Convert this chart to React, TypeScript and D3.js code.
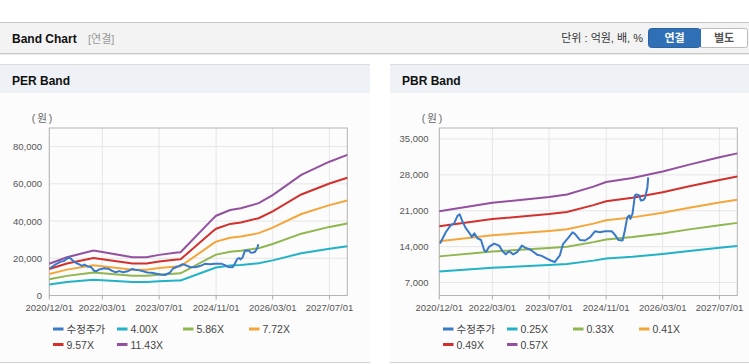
import React from "react";
import * as d3 from "d3";

// adjusted close (수정주가), same series for both panels
const priceDates = [
  "2020-12-07", "2021-01-28", "2021-03-10", "2021-04-06", "2021-05-06", "2021-05-25",
  "2021-06-18", "2021-07-16", "2021-08-15", "2021-09-06", "2021-09-28", "2021-10-25",
  "2021-11-24", "2021-12-21", "2022-01-06", "2022-02-03", "2022-03-16", "2022-04-28",
  "2022-05-28", "2022-06-24", "2022-07-22", "2022-08-27", "2022-10-03", "2022-11-09",
  "2022-12-07", "2023-01-12", "2023-02-15", "2023-03-22", "2023-04-28", "2023-06-08",
  "2023-07-15", "2023-08-18", "2023-10-01", "2023-10-28", "2023-12-12", "2024-01-18",
  "2024-02-07", "2024-03-21", "2024-05-03", "2024-06-15", "2024-07-28", "2024-09-09",
  "2024-10-21", "2024-12-19", "2025-01-16", "2025-02-14", "2025-03-22", "2025-04-10",
  "2025-05-01", "2025-05-19", "2025-05-28", "2025-06-15", "2025-07-06", "2025-07-19",
  "2025-08-12", "2025-08-25", "2025-09-16", "2025-10-01", "2025-10-21", "2025-10-28",
];
const priceValues = [
  14600, 16900, 18200, 18500, 20000, 20300,
  18900, 17600, 16700, 15900, 16600, 15600,
  15300, 13300, 13000, 14000, 14600, 14200,
  13100, 12500, 13100, 12500, 13000, 14200,
  13800, 13500, 13000, 12400, 12200, 11700,
  11300, 11000, 12300, 14500, 15700, 16800,
  16500, 15300, 15200, 15800, 17000, 16800,
  17000, 17000, 16300, 15300, 15200, 17100,
  19700, 20100, 19400, 20400, 24000, 24200,
  24000, 23000, 23100, 23500, 25600, 27500,
];

// EPS path behind the PER band
const epsDates = [
  "2020-12-01", "2021-05-01", "2021-12-15", "2022-03-01", "2022-11-15", "2023-03-15",
  "2023-07-01", "2023-12-01", "2024-01-01", "2024-10-01", "2024-11-01", "2025-03-01",
  "2025-06-01", "2025-11-01", "2026-03-01", "2026-11-01", "2027-07-01", "2027-12-01",
];
const epsValues = [
  1490, 1800, 2110, 2040, 1800, 1800,
  1910, 2020, 2030, 3590, 3750, 4020,
  4100, 4340, 4720, 5670, 6290, 6610,
];

// BPS path behind the PBR band
const bpsDates = [
  "2020-12-01", "2022-03-01", "2023-07-01", "2023-12-01", "2024-07-15", "2024-11-01",
  "2025-06-15", "2026-03-01", "2026-10-15", "2027-07-01", "2027-12-01",
];
const bpsValues = [
  36670, 39560, 41580, 42400, 45090, 46670,
  48070, 50250, 52630, 55120, 56470,
];

const perMultiples = [4.0, 5.86, 7.72, 9.57, 11.43];
const perLabels = ["수정주가", "4.00X", "5.86X", "7.72X", "9.57X", "11.43X"];
const pbrMultiples = [0.25, 0.33, 0.41, 0.49, 0.57];
const pbrLabels = ["수정주가", "0.25X", "0.33X", "0.41X", "0.49X", "0.57X"];

const perYTicks = [0, 20000, 40000, 60000, 80000];
const pbrYTicks = [7000, 14000, 21000, 28000, 35000];
const xTickDates = ["2020-12-01", "2022-03-01", "2023-07-01", "2024-11-01", "2026-03-01", "2027-07-01"];
const xTickLabels = ["2020/12/01", "2022/03/01", "2023/07/01", "2024/11/01", "2026/03/01", "2027/07/01"];

const colors = ["#3a78c8", "#22b2c6", "#8fb64f", "#f4a63a", "#d2302d", "#92509e"];

const FONT = "'Liberation Sans', Arial, 'Noto Sans CJK KR', sans-serif";
const parse = d3.timeParse("%Y-%m-%d");

type PanelProps = {
  x0: number;
  width: number;
  title: string;
  yDomain: [number, number];
  yTicks: number[];
  labelRight: number;
  showZero: boolean;
  baseDates: string[];
  baseValues: number[];
  multiples: number[];
  labels: string[];
};

function Panel(p: PanelProps) {
  const plotL = 49.3, plotR = 347.3, plotT = 128, plotB = 295.5;
  const x = d3.scaleTime()
    .domain([parse("2020-12-01")!, parse("2027-12-01")!])
    .range([plotL, plotR]);
  const y = d3.scaleLinear().domain(p.yDomain).range([plotB, plotT]);
  const line = d3.line<[Date, number]>().x(d => x(d[0])).y(d => y(d[1]));

  const base = p.baseDates.map((d, i) => [parse(d)!, p.baseValues[i]] as [Date, number]);
  const bands = p.multiples.map(m => base.map(([d, v]) => [d, v * m] as [Date, number]));
  const price = priceDates.map((d, i) => [parse(d)!, priceValues[i]] as [Date, number]);
  const fmt = d3.format(",");

  const legendCols = [53, 117, 183, 249];

  return (
    <g transform={`translate(${p.x0},0)`}>
      <rect x={0} y={64} width={p.width} height={299} fill="#fcfcfc" />
      <rect x={0} y={64.5} width={p.width} height={28.5} fill="#eef1f6" />
      <line x1={0} x2={p.width} y1={64.5} y2={64.5} stroke="#dcdcdc" />
      <line x1={0} x2={p.width} y1={362.5} y2={362.5} stroke="#d0d0d0" />
      <text x={12} y={85} fontSize={12} fontWeight="bold" fill="#111" fontFamily={FONT}>{p.title}</text>

      <text x={43} y={122} fontSize={10.5} fill="#666" textAnchor="middle" letterSpacing={2} fontFamily={FONT}>(원)</text>

      {p.yTicks.map(t => (
        <g key={t}>
          <line x1={plotL} x2={plotR} y1={y(t)} y2={y(t)} stroke="#e6e6e6" />
          {(t !== 0 || p.showZero) && (
            <text x={p.labelRight} y={y(t) + 3.5} fontSize={9.5} fill="#555" textAnchor="end" fontFamily={FONT}>
              {fmt(t)}
            </text>
          )}
        </g>
      ))}
      {xTickDates.map((d, i) => {
        const xx = x(parse(d)!);
        return (
          <g key={d}>
            <line x1={xx} x2={xx} y1={plotT} y2={plotB} stroke="#e6e6e6" />
            <line x1={xx} x2={xx} y1={plotB} y2={plotB + 4} stroke="#aaa" />
            <text x={xx} y={311} fontSize={9.5} fill="#555" textAnchor="middle" fontFamily={FONT}>
              {xTickLabels[i]}
            </text>
          </g>
        );
      })}
      <rect x={plotL} y={plotT} width={plotR - plotL} height={plotB - plotT} fill="none" stroke="#b4b4b4" />

      {bands.map((b, i) => (
        <path key={i} d={line(b)!} fill="none" stroke={colors[i + 1]} strokeWidth={2} />
      ))}
      <path d={line(price)!} fill="none" stroke={colors[0]} strokeWidth={2} strokeLinejoin="round" />

      {p.labels.map((lab, i) => {
        const lx = legendCols[i % 4];
        const ly = i < 4 ? 329 : 344.5;
        return (
          <g key={lab}>
            <line x1={lx} x2={lx + 10.5} y1={ly} y2={ly} stroke={colors[i]} strokeWidth={3} />
            <text x={lx + 13.5} y={ly + 4} fontSize={10.5} fill="#444" fontFamily={FONT}>{lab}</text>
          </g>
        );
      })}
    </g>
  );
}

export default function App() {
  return (
    <>
      <style>{`body{margin:0}`}</style>
      <svg width={749} height={364} style={{ display: "block", background: "#fff" }}>
        {/* page header */}
        <rect x={0} y={22} width={749} height={31} fill="#f3f3f3" />
        <line x1={0} x2={749} y1={22.5} y2={22.5} stroke="#c4c4c4" />
        <line x1={0} x2={749} y1={53.5} y2={53.5} stroke="#c8c8c8" />
        <line x1={0} x2={749} y1={54.5} y2={54.5} stroke="#ececec" />
        <text x={12} y={42.5} fontSize={12} fontWeight="bold" fill="#111" fontFamily={FONT}>Band Chart</text>
        <text x={88} y={42.5} fontSize={11} fill="#999" fontFamily={FONT}>[연결]</text>
        <text x={643} y={42} fontSize={11} fill="#333" textAnchor="end" fontFamily={FONT}>단위 : 억원, 배, %</text>
        <rect x={648.5} y={28.5} width={52} height={19} rx={3} fill="#2f6fb5" stroke="#2a63a3" />
        <rect x={700} y={28.5} width={47.5} height={19} rx={2} fill="#fff" stroke="#bdbdbd" />
        <rect x={697} y={29} width={4} height={18} fill="#2f6fb5" />
        <text x={674.5} y={42} fontSize={11} fontWeight="bold" fill="#fff" textAnchor="middle" fontFamily={FONT}>연결</text>
        <text x={724} y={42} fontSize={11} fontWeight="bold" fill="#555" textAnchor="middle" fontFamily={FONT}>별도</text>

        <Panel
          x0={0}
          width={370}
          title="PER Band"
          yDomain={[0, 90000]}
          yTicks={perYTicks}
          labelRight={42}
          showZero={true}
          baseDates={epsDates}
          baseValues={epsValues}
          multiples={perMultiples}
          labels={perLabels}
        />
        <Panel
          x0={390}
          width={359}
          title="PBR Band"
          yDomain={[4470, 37140]}
          yTicks={pbrYTicks}
          labelRight={38.5}
          showZero={false}
          baseDates={bpsDates}
          baseValues={bpsValues}
          multiples={pbrMultiples}
          labels={pbrLabels}
        />
      </svg>
    </>
  );
}
